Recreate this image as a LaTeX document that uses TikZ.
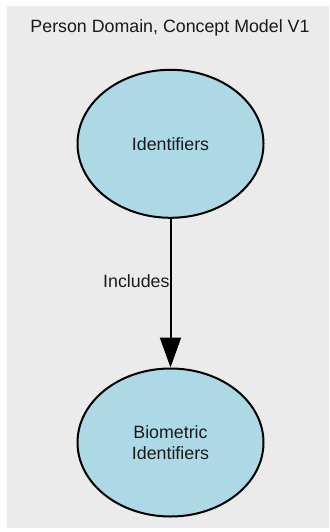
\documentclass[tikz,border=0pt]{standalone}
\usepackage{fontspec}
\setmainfont{Liberation Sans}
\usetikzlibrary{shapes.geometric,arrows.meta}
\definecolor{bggray}{HTML}{EBEBEB}
\definecolor{nodeblue}{HTML}{ADD8E6}
\definecolor{txt}{HTML}{1A1A1A}
\tikzset{
  concept/.style={ellipse, draw=black, line width=2pt, fill=nodeblue,
    minimum width=186pt, minimum height=148pt, inner sep=0pt,
    text=txt, align=center, font=\fontsize{17.8}{21.5}\selectfont},
  link/.style={draw=black, line width=2pt, -{Triangle[width=21pt,length=30pt]}},
  lbl/.style={text=txt, inner sep=0pt, font=\fontsize{17.8}{21.5}\selectfont}
}
\begin{document}
\begin{tikzpicture}[x=1pt,y=-1pt]
\useasboundingbox (0,0) rectangle (329,532);
\fill[bggray] (7,6) rectangle (329,528);
\node[lbl] (title) at (170,28) {Person Domain, Concept Model V1};
\node[concept] (id) at (170.5,143.8) {Identifiers};
\node[concept] (bio) at (170.5,442.5) {Biometric\\Identifiers};
\draw[link] (id) -- node[lbl, pos=0.42, anchor=east] (inc) {Includes} (bio);
\end{tikzpicture}
\end{document}
